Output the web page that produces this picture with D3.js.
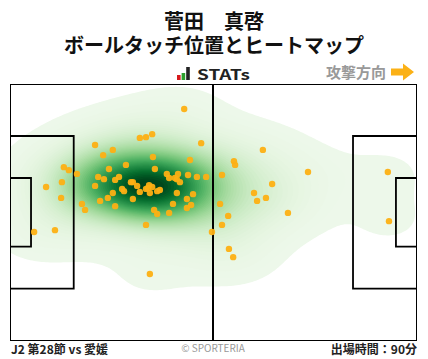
<!DOCTYPE html>
<html>
<head>
<meta charset="utf-8">
<title>ボールタッチ位置とヒートマップ</title>
<script src="https://d3js.org/d3.v7.min.js"></script>
<style>
html,body{margin:0;padding:0;background:#fff;}
svg{display:block;}
text{font-family:"Noto Sans CJK JP","Noto Sans",sans-serif;}
</style>
</head>
<body>
<script>
// touch positions, in metres on a 105 x 68 pitch
var touchX = [44.9,33.4,35.0,36.6,49.3,21.8,26.4,23.9,36.8,46.4,29.8,13.7,15.0,25.4,37.3,17.1,22.6,24.1,28.0,27.0,13.2,9.1,21.8,31.1,31.6,32.7,35.8,35.5,36.6,35.0,33.4,36.0,37.9,38.6,28.8,29.3,26.4,25.1,23.1,31.6,13.0,18.4,19.2,27.0,37.1,37.9,41.0,42.0,45.6,46.7,45.6,43.0,47.2,43.8,43.3,40.4,41.0,42.5,43.0,45.9,48.2,50.6,6.0,11.4,35.0,36.0,52.1,65.3,57.8,58.1,54.7,77.0,97.7,67.7,63.0,66.1,63.8,54.2,71.8,56.3,54.7,56.5,57.6,98.0];
var touchY = [6.4,14.1,13.9,13.1,15.5,16.0,17.3,18.7,19.2,20.0,21.3,21.9,22.7,22.4,22.4,23.7,24.5,25.1,24.5,25.3,25.9,27.2,26.9,25.9,25.9,26.9,26.7,27.5,27.2,27.7,28.5,28.8,28.3,28.0,27.7,28.3,28.8,30.1,30.9,30.4,30.1,31.7,33.3,32.3,33.3,34.4,34.1,31.7,30.4,32.0,32.8,28.8,29.1,25.9,23.7,23.7,24.8,24.8,25.1,24.0,24.5,24.5,39.2,38.7,37.3,50.4,39.2,17.3,20.3,21.3,24.0,23.2,23.2,26.4,28.8,30.1,30.9,31.7,34.1,34.9,37.3,43.7,45.9,36.3];

var pitchLength = 105, pitchWidth = 68, halfLine = 52.37;
var penaltyDepth = 16.26, goalDepth = 5.19, penaltyRight = 88.67, goalRight = 99.8;
var penaltyTop = 13.6, penaltyBottom = 54.32, goalTop = 24.8, goalBottom = 43.12;

var titleLines = ["菅田　真啓","ボールタッチ位置とヒートマップ"];
var directionLabel = "攻撃方向";
var matchLabel = "J2 第28節 vs 愛媛";
var creditLabel = "© SPORTERIA";
var minutesLabel = "出場時間：90分";
var logoBars = [{h:5,c:"#d7191c"},{h:7,c:"#2ca02c"},{h:13,c:"#222222"}];

var svg = d3.select("body").append("svg").attr("width",428).attr("height",359);

var x = d3.scaleLinear().domain([0,pitchLength]).range([11,416]);
var y = d3.scaleLinear().domain([0,pitchWidth]).range([85,340]);

// titles
svg.selectAll("text.title").data(titleLines).enter().append("text")
   .attr("class","title")
   .attr("x",214).attr("y",function(d,i){return 29+i*24;})
   .attr("text-anchor","middle")
   .attr("font-size","20px").attr("font-weight",700).attr("fill","#111")
   .text(function(d){return d;});

// logo
var logo = svg.append("g").attr("transform","translate(177,67)");
logo.selectAll("rect").data(logoBars).enter().append("rect")
   .attr("x",function(d,i){return i*4.6;})
   .attr("y",function(d){return 13-d.h;})
   .attr("width",3.6).attr("height",function(d){return d.h;})
   .attr("fill",function(d){return d.c;});
logo.append("text").attr("x",20).attr("y",13)
   .attr("font-family","DejaVu Sans").attr("font-size","14px").attr("font-weight",700)
   .attr("fill","#222").attr("textLength",53).attr("lengthAdjust","spacingAndGlyphs").text("STATs");

// attack direction
svg.append("text").attr("x",326).attr("y",78)
   .attr("font-size","15px").attr("font-weight",700).attr("fill","#999").text(directionLabel);
svg.append("path").attr("d","M391,68.5h12v-5l11,8.5l-11,8.5v-5h-12z").attr("fill","#fbb116");

// density of the touches on a half metre grid
var cell = 0.5, nx = pitchLength/cell+1, ny = pitchWidth/cell+1;
var bwX = 9, bwY = 6;
var grid = new Float64Array(nx*ny);
for (var j=0;j<ny;j++){
  for (var i=0;i<nx;i++){
    var s = 0;
    for (var k=0;k<touchX.length;k++){
      var dx = (i*cell-touchX[k])/bwX, dy = (j*cell-touchY[k])/bwY;
      s += Math.exp(-0.5*(dx*dx+dy*dy));
    }
    grid[j*nx+i] = s;
  }
}
var maxD = d3.max(grid);
var levels = d3.range(0.028,1,0.018).map(function(t){return t*maxD;});
var contours = d3.contours().size([nx,ny]).thresholds(levels)(grid);
var proj = d3.geoTransform({point:function(a,b){this.stream.point(x((a-0.5)*cell),y((b-0.5)*cell));}});
var heatPath = d3.geoPath(proj);
var colorPos = d3.scalePow().exponent(1.45).domain([0,maxD*0.97]).range([0.06,1]).clamp(true);

svg.append("defs").append("clipPath").attr("id","pitchClip").append("rect")
   .attr("x",x(0)).attr("y",y(0)).attr("width",x(pitchLength)-x(0)).attr("height",y(pitchWidth)-y(0));

svg.append("g").attr("clip-path","url(#pitchClip)")
   .selectAll("path").data(contours).enter().append("path")
   .attr("d",heatPath)
   .attr("fill",function(d){return d3.interpolateGreens(colorPos(d.value));});

// pitch lines
var lines = svg.append("g").attr("fill","none").attr("stroke","#000");
lines.append("rect").attr("x",x(0)-0.5).attr("y",y(0)-0.5)
   .attr("width",x(pitchLength)-x(0)+1).attr("height",y(pitchWidth)-y(0)+1).attr("stroke-width",1);
lines.append("line").attr("x1",x(halfLine)).attr("x2",x(halfLine))
   .attr("y1",y(0)).attr("y2",y(pitchWidth)).attr("stroke-width",2);
var boxes = [[0,penaltyDepth,penaltyTop,penaltyBottom],[0,goalDepth,goalTop,goalBottom],
             [pitchLength,penaltyRight,penaltyTop,penaltyBottom],[pitchLength,goalRight,goalTop,goalBottom]];
lines.selectAll("path").data(boxes).enter().append("path")
   .attr("stroke-width",1.8)
   .attr("d",function(d){return "M"+x(d[0])+","+y(d[2])+"H"+x(d[1])+"V"+y(d[3])+"H"+x(d[0]);});

// touches
svg.append("g").selectAll("circle").data(touchX).enter().append("circle")
   .attr("cx",function(d){return x(d);})
   .attr("cy",function(d,i){return y(touchY[i]);})
   .attr("r",3.2)
   .attr("fill","#fdb013").attr("fill-opacity",0.95);

// footer
svg.append("text").attr("x",11).attr("y",354).attr("font-size","12px").attr("font-weight",700).attr("fill","#222").text(matchLabel);
svg.append("text").attr("x",213).attr("y",352).attr("text-anchor","middle").attr("font-family","Roboto").attr("font-size","10px").attr("fill","#999").text(creditLabel);
svg.append("text").attr("x",417).attr("y",354).attr("text-anchor","end").attr("font-size","12px").attr("font-weight",700).attr("fill","#222").text(minutesLabel);
</script>
</body>
</html>
